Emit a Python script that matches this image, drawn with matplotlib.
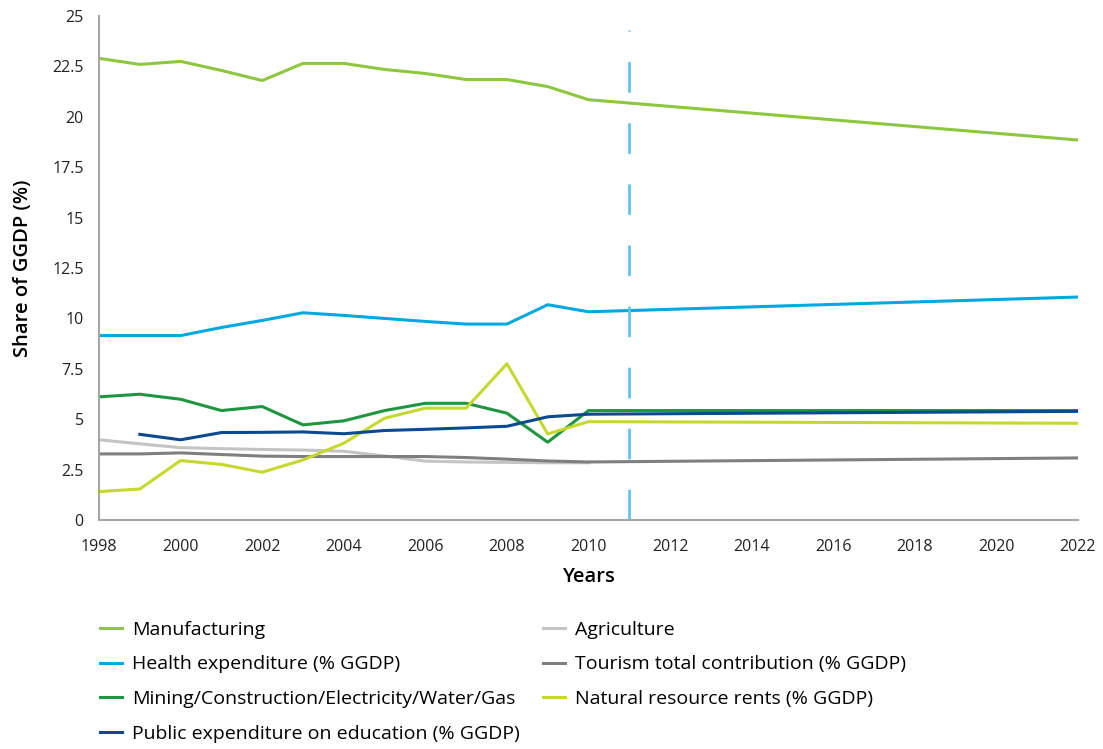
import numpy as np
import matplotlib.pyplot as plt
from matplotlib.ticker import FuncFormatter

plt.rcParams['font.family'] = ['Open Sans', 'DejaVu Sans']

years = list(range(1998, 2011)) + [2022]
manufacturing = [22.9, 22.6, 22.75, 22.3, 21.8, 22.65, 22.65, 22.35, 22.15, 21.85, 21.85, 21.5, 20.85, 18.85]
health = [9.15, 9.15, 9.15, 9.55, 9.9, 10.28, 10.15, 10.0, 9.85, 9.72, 9.72, 10.68, 10.33, 11.06]
mining = [6.11, 6.24, 5.99, 5.43, 5.63, 4.72, 4.92, 5.43, 5.79, 5.79, 5.30, 3.86, 5.43, 5.43]
edu_years = list(range(1999, 2011)) + [2022]
education = [4.25, 3.98, 4.34, 4.35, 4.37, 4.28, 4.44, 4.5, 4.57, 4.65, 5.12, 5.25, 5.39]
agri_years = list(range(1998, 2011))
agriculture = [3.98, 3.78, 3.59, 3.54, 3.5, 3.47, 3.41, 3.18, 2.92, 2.88, 2.86, 2.84, 2.84]
tourism = [3.28, 3.28, 3.33, 3.25, 3.17, 3.15, 3.15, 3.15, 3.15, 3.1, 3.02, 2.93, 2.88, 3.08]
natural = [1.41, 1.54, 2.95, 2.76, 2.37, 2.98, 3.81, 5.05, 5.55, 5.55, 7.75, 4.27, 4.88, 4.80]

split_year = 2011
x_ticks = list(range(1998, 2023, 2))
y_ticks = np.arange(0, 25.1, 2.5)

fig = plt.figure(figsize=(11.03, 7.49), dpi=100)
ax = fig.add_axes([0.0898, 0.3057, 0.8875, 0.6729])

lw = 2.2
h_man, = ax.plot(years, manufacturing, color='#8DC63F', lw=lw, label='Manufacturing')
h_hea, = ax.plot(years, health, color='#00A9E0', lw=lw, label='Health expenditure (% GGDP)')
h_min, = ax.plot(years, mining, color='#1E9640', lw=lw, label='Mining/Construction/Electricity/Water/Gas')
h_agr, = ax.plot(agri_years, agriculture, color='#C4C4C4', lw=lw, label='Agriculture')
h_tou, = ax.plot(years, tourism, color='#7F7F82', lw=lw, label='Tourism total contribution (% GGDP)')
h_nat, = ax.plot(years, natural, color='#C5D92D', lw=lw, label='Natural resource rents (% GGDP)')
h_edu, = ax.plot(edu_years, education, color='#0B4A8F', lw=lw, label='Public expenditure on education (% GGDP)')

ax.plot([split_year, split_year], [0, 24.3], color='#62C4EC', lw=2, dashes=(11, 11))

ax.set_xlim(1998, 2022)
ax.set_ylim(0, 25)
ax.set_xticks(x_ticks)
ax.set_yticks(y_ticks)
ax.yaxis.set_major_formatter(FuncFormatter(lambda v, p: f'{v:g}'))
ax.tick_params(length=0, labelsize=11.5, colors='#222222')
ax.tick_params(axis='x', pad=14)
ax.tick_params(axis='y', pad=11)
for s in ['top', 'right']:
    ax.spines[s].set_visible(False)
for s in ['left', 'bottom']:
    ax.spines[s].set_color('#A6A6A6')
    ax.spines[s].set_linewidth(1.5)

ax.set_xlabel('Years', fontsize=14.5, fontweight='semibold', labelpad=8)
ax.set_ylabel('Share of GGDP (%)', fontsize=14.5, fontweight='semibold', labelpad=14)

handles = [h_man, h_hea, h_min, h_edu, h_agr, h_tou, h_nat]
fig.legend(handles=handles, labels=[h.get_label() for h in handles], ncol=2,
           loc='upper left', bbox_to_anchor=(0.0907, 0.171), frameon=False,
           fontsize=14, handlelength=1.13, handletextpad=0.5, borderpad=0,
           borderaxespad=0, columnspacing=1.2, labelspacing=0.85)

fig.savefig('out.png', dpi=100)
